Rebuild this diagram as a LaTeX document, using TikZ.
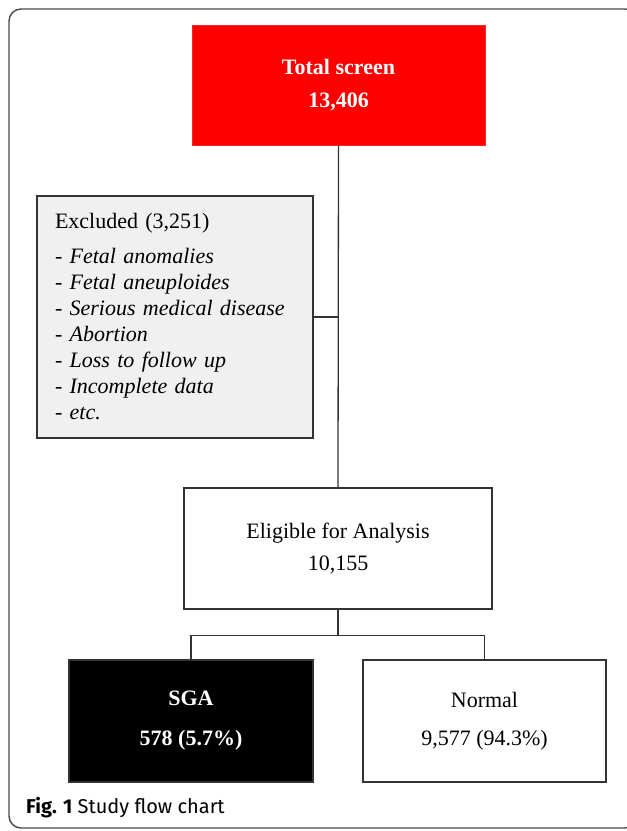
\documentclass[tikz,border=0pt]{standalone}
\usepackage{fontspec}
\usetikzlibrary{calc}
\setmainfont{Liberation Serif}
\newfontfamily\capfont{Fira Sans}
\definecolor{boxline}{HTML}{333333}
\definecolor{exfill}{HTML}{F0F0F0}
\definecolor{framecol}{HTML}{4A4A4A}
\begin{document}
\begin{tikzpicture}[x=1pt,y=-1pt,
  box/.style={draw=boxline, line width=1.6pt, rectangle, inner sep=0pt, align=center, font=\fontsize{22}{32}\selectfont},
  link/.style={draw=boxline, line width=1.3pt}]
\useasboundingbox (0,0) rectangle (627,831);
\draw[framecol, line width=1.4pt, rounded corners=12pt] (9,9) rectangle (637,828);

\node[box, draw=red!85!white, line width=0.6pt, fill=red, text=white, font=\bfseries\fontsize{22}{33}\selectfont,
  minimum width=293pt, minimum height=120pt] (total) at (338.5,85) {Total screen\\13,406};

\node[box, fill=exfill, minimum width=276pt, minimum height=242pt, text width=240pt, align=left,
  inner xsep=18pt, font=\fontsize{22}{26}\selectfont] (excl) at (175,317)
  {Excluded (3,251)\\[9pt]
   \itshape - Fetal anomalies\\
   \itshape - Fetal aneuploides\\
   \itshape - Serious medical disease\\
   \itshape - Abortion\\
   \itshape - Loss to follow up\\
   \itshape - Incomplete data\\
   \itshape - etc.};

\node[box, fill=white, minimum width=308pt, minimum height=121pt] (elig) at (338,548.5) {Eligible for Analysis\\10,155};

\node[box, fill=black, text=white, font=\bfseries\fontsize{22}{40}\selectfont,
  minimum width=244pt, minimum height=122pt] (sga) at (191,721) {SGA\\578 (5.7\%)};
\node[box, fill=white, font=\fontsize{22}{38}\selectfont,
  minimum width=243pt, minimum height=122pt] (normal) at (484.5,721) {Normal\\9,577 (94.3\%)};

\coordinate (j1) at (elig.north |- excl.east);
\coordinate (split) at ($(elig.south)+(0,26)$);
\draw[link] (total.south) -- (elig.north);
\draw[link] (excl.east) -- (j1);
\draw[link] (elig.south) -- (split);
\draw[link] (sga.north) |- (split) -| (normal.north);

\node[anchor=base west, inner sep=0pt, font=\capfont\fontsize{20}{22}\selectfont] (cap) at (26,813)
  {\textbf{Fig. 1} Study flow chart};
\end{tikzpicture}
\end{document}
